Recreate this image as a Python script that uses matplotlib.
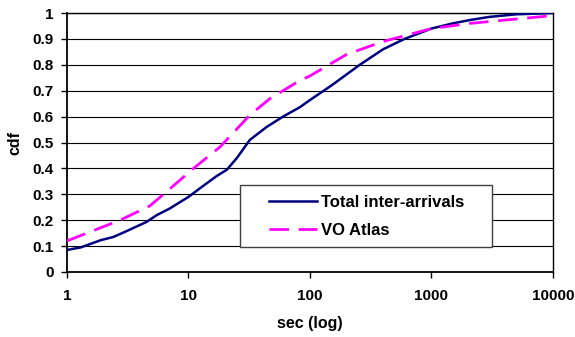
import matplotlib
matplotlib.use("Agg")
import matplotlib.pyplot as plt
from matplotlib.ticker import FixedLocator, NullLocator
from matplotlib.patches import Rectangle

plt.rcParams['font.family'] = ['Liberation Sans', 'DejaVu Sans']
plt.rcParams['font.weight'] = 'bold'

# Data
total_x = [1, 1.3, 1.9, 2.4, 3, 4.5, 5.5, 7, 10, 13, 17, 20.7, 25, 32, 44, 60, 83, 100, 150, 257, 400, 600, 1000, 1500, 2080, 3000, 5000, 10000]
total_y = [0.085, 0.095, 0.123, 0.135, 0.155, 0.193, 0.22, 0.245, 0.29, 0.33, 0.37, 0.395, 0.44, 0.51, 0.56, 0.60, 0.637, 0.664, 0.72, 0.80, 0.86, 0.90, 0.94, 0.96, 0.973, 0.985, 0.995, 1.0]
vo_x = [1, 2.73, 4.8, 6.6, 11, 18.2, 32, 47, 83, 100, 200, 400, 1000, 2080, 10000]
vo_y = [0.12, 0.20, 0.255, 0.31, 0.40, 0.483, 0.606, 0.67, 0.74, 0.757, 0.84, 0.89, 0.94, 0.96, 0.99]

xticks = [1, 10, 100, 1000, 10000]
xticklabels = ['1', '10', '100', '1000', '10000']
yticks = [0, 0.1, 0.2, 0.3, 0.4, 0.5, 0.6, 0.7, 0.8, 0.9, 1]
yticklabels = ['0', '0.1', '0.2', '0.3', '0.4', '0.5', '0.6', '0.7', '0.8', '0.9', '1']

fig = plt.figure(figsize=(5.75, 3.37), dpi=100)
ax = fig.add_axes([0.1165, 0.1929, 0.8452, 0.7685])

ax.plot(total_x, total_y, color='#000080', lw=1.8, label='Total inter-arrivals', zorder=3)
ax.plot(vo_x, vo_y, color='#FF00FF', lw=2.0, dashes=(7, 3.5), label='VO Atlas', zorder=3)

ax.set_xscale('log')
ax.set_xlim(1, 10000)
ax.set_ylim(0, 1)
ax.xaxis.set_major_locator(FixedLocator(xticks))
ax.xaxis.set_minor_locator(NullLocator())
ax.set_xticklabels(xticklabels)
ax.set_yticks(yticks)
ax.set_yticklabels(yticklabels)
ax.tick_params(axis='both', labelsize=11, direction='out', length=4.3, width=1, color='black')
ax.tick_params(axis='x', pad=8)
ax.tick_params(axis='y', pad=5.5)
for lab in ax.get_xticklabels() + ax.get_yticklabels():
    lab.set_fontweight('bold')

ax.grid(axis='y', color='black', lw=0.8)
ax.set_axisbelow(True)
for s in ['left', 'right', 'top', 'bottom']:
    ax.spines[s].set_color('black')
ax.spines['left'].set_linewidth(1.3)
ax.spines['bottom'].set_linewidth(1.3)
ax.spines['right'].set_linewidth(1.0)
ax.spines['top'].set_linewidth(1.0)

ax.set_xlabel('sec (log)', fontsize=11.5, fontweight='bold', labelpad=9)
ax.set_ylabel('cdf', fontsize=11.5, fontweight='bold', labelpad=7)

# legend box
box = Rectangle((0.356, 0.0965), 0.5185, 0.2395, transform=ax.transAxes,
                facecolor='white', edgecolor='#404040', lw=1.0, zorder=4)
ax.add_patch(box)
leg = ax.legend(loc='upper left', bbox_to_anchor=(0.4156, 0.298), frameon=False,
                handlelength=2.9, prop={'weight': 'bold', 'size': 12}, borderpad=0,
                labelspacing=0.8, handletextpad=0.2, borderaxespad=0)
leg.set_zorder(5)

fig.savefig('out.png', dpi=100)
